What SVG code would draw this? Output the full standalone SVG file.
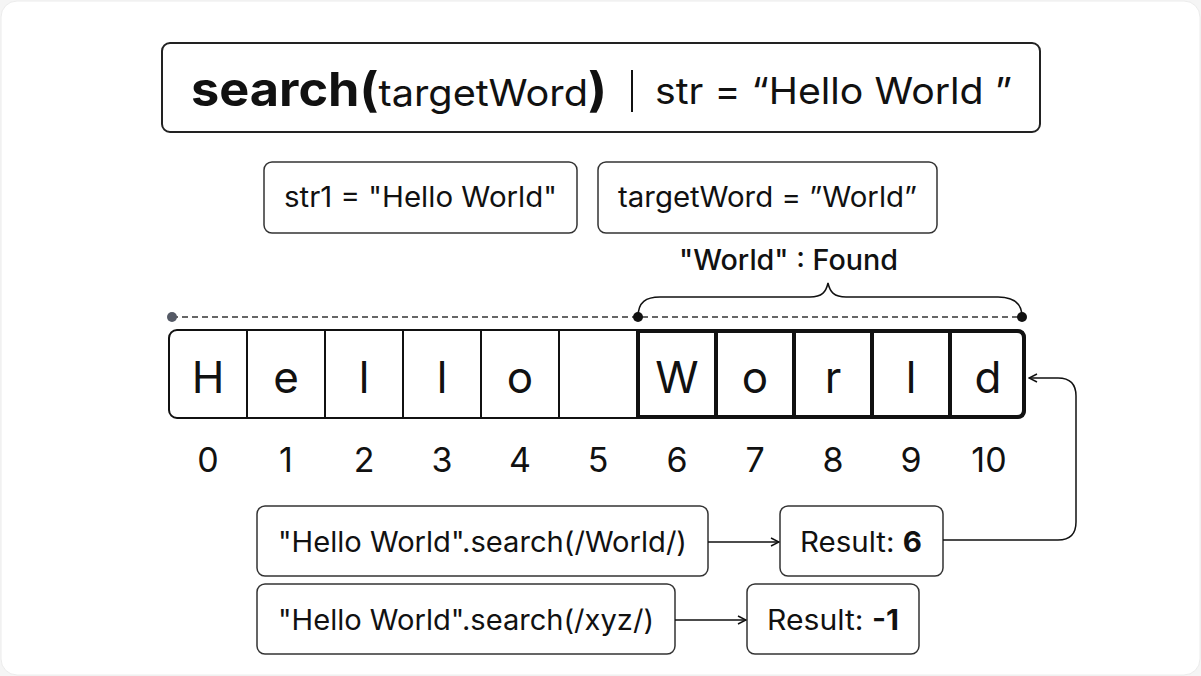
<svg xmlns="http://www.w3.org/2000/svg" width="1201" height="676" viewBox="0 0 1201 676">
<style>
.box{fill:#fff;stroke:#333;stroke-width:1.5}
.t{font-family:Inter,"Liberation Sans",sans-serif;fill:#111}
.cell{fill:none;stroke:#111;stroke-width:2}
.bold{fill:none;stroke:#111;stroke-width:4}
.ch{font-family:Inter,"Liberation Sans",sans-serif;font-size:44px;fill:#111;text-anchor:middle}
.idx{font-family:Inter,"Liberation Sans",sans-serif;font-size:34px;fill:#111;text-anchor:middle}
.conn{fill:none;stroke:#111;stroke-width:1.5}
</style>
<defs>
<marker id="arr" markerWidth="10" markerHeight="10" refX="9" refY="5" orient="auto" markerUnits="userSpaceOnUse">
<path d="M1,1 L9,5 L1,9" fill="none" stroke="#111" stroke-width="1.5"/>
</marker>
</defs>
<rect x="0" y="0" width="1201" height="676" fill="#f5f5f5"/>
<rect x="1" y="1" width="1199" height="674" rx="16" fill="#fff" stroke="#ececec"/>

<g id="title">
<rect x="162" y="43" width="878" height="89" rx="8" fill="#fff" stroke="#222" stroke-width="2"/>
<text class="t" x="191" y="106" font-size="47" font-weight="bold" textLength="416" lengthAdjust="spacingAndGlyphs">search(<tspan font-weight="normal" font-size="37">targetWord</tspan>)</text>
<line x1="632" y1="70" x2="632" y2="112" stroke="#111" stroke-width="2"/>
<text class="t" x="655" y="104" font-size="37" textLength="357" lengthAdjust="spacingAndGlyphs">str = “Hello World ”</text>
</g>

<g id="str1">
<rect class="box" x="264" y="162" width="313" height="71" rx="8"/>
<text class="t" x="284" y="207" font-size="28" textLength="273" lengthAdjust="spacingAndGlyphs">str1 = "Hello World"</text>
</g>
<g id="target">
<rect class="box" x="598" y="162" width="339" height="71" rx="8"/>
<text class="t" x="618" y="207" font-size="28" textLength="299" lengthAdjust="spacingAndGlyphs">targetWord = ”World”</text>
</g>

<g id="found">
<text class="t" x="679" y="270" font-size="28" font-weight="500" textLength="219" lengthAdjust="spacingAndGlyphs">"World" : Found</text>
<path class="conn" d="M638,317 C638,302 646,297 660,297 L810,297 C822,297 826,292 828,283 C830,292 834,297 846,297 L998,297 C1012,297 1022,302 1022,317" stroke-width="2"/>
</g>

<g id="range">
<line x1="172" y1="317" x2="1022" y2="317" stroke="#666" stroke-width="2" stroke-dasharray="6,4"/>
<circle cx="172" cy="317" r="5" fill="#555a66"/>
<circle cx="638" cy="317" r="5" fill="#111"/>
<circle cx="1022" cy="317" r="5" fill="#111"/>
</g>

<g id="array">
<rect x="169" y="330" width="856" height="88" rx="8" fill="#fff" stroke="#111" stroke-width="2"/>
<line class="cell" x1="247" y1="330" x2="247" y2="418"/>
<line class="cell" x1="325" y1="330" x2="325" y2="418"/>
<line class="cell" x1="403" y1="330" x2="403" y2="418"/>
<line class="cell" x1="481" y1="330" x2="481" y2="418"/>
<line class="cell" x1="559" y1="330" x2="559" y2="418"/>
<path class="bold" d="M638,331 L1017,331 Q1024,331 1024,338 L1024,410 Q1024,417 1017,417 L638,417 Z"/>
<line class="bold" x1="716" y1="331" x2="716" y2="417"/>
<line class="bold" x1="794" y1="331" x2="794" y2="417"/>
<line class="bold" x1="872" y1="331" x2="872" y2="417"/>
<line class="bold" x1="950" y1="331" x2="950" y2="417"/>
<text class="ch" x="208" y="393">H</text>
<text class="ch" x="286" y="393">e</text>
<text class="ch" x="364" y="393">l</text>
<text class="ch" x="442" y="393">l</text>
<text class="ch" x="520" y="393">o</text>
<text class="ch" x="677" y="393">W</text>
<text class="ch" x="755" y="393">o</text>
<text class="ch" x="833" y="393">r</text>
<text class="ch" x="911" y="393">l</text>
<text class="ch" x="988" y="393">d</text>
<text class="idx" x="208" y="472">0</text>
<text class="idx" x="286" y="472">1</text>
<text class="idx" x="364" y="472">2</text>
<text class="idx" x="442" y="472">3</text>
<text class="idx" x="520" y="472">4</text>
<text class="idx" x="598" y="472">5</text>
<text class="idx" x="677" y="472">6</text>
<text class="idx" x="755" y="472">7</text>
<text class="idx" x="833" y="472">8</text>
<text class="idx" x="911" y="472">9</text>
<text class="idx" x="989" y="472">10</text>
</g>

<g id="call1">
<rect class="box" x="257" y="506" width="451" height="70" rx="8"/>
<text class="t" x="278" y="552" font-size="28" textLength="409" lengthAdjust="spacingAndGlyphs">"Hello World".search(/World/)</text>
</g>
<g id="res1">
<rect class="box" x="780" y="506" width="163" height="70" rx="8"/>
<text class="t" x="800" y="552" font-size="28" textLength="122" lengthAdjust="spacingAndGlyphs">Result: <tspan font-weight="bold">6</tspan></text>
</g>
<g id="call2">
<rect class="box" x="257" y="584" width="418" height="70" rx="8"/>
<text class="t" x="278" y="630" font-size="28" textLength="376" lengthAdjust="spacingAndGlyphs">"Hello World".search(/xyz/)</text>
</g>
<g id="res2">
<rect class="box" x="747" y="584" width="172" height="70" rx="8"/>
<text class="t" x="767" y="630" font-size="28" textLength="132" lengthAdjust="spacingAndGlyphs">Result: <tspan font-weight="bold">-1</tspan></text>
</g>

<g id="connectors">
<line class="conn" x1="708" y1="542" x2="779" y2="542" marker-end="url(#arr)"/>
<line class="conn" x1="675" y1="620" x2="746" y2="620" marker-end="url(#arr)"/>
<path class="conn" d="M943,540 L1058,540 Q1076,540 1076,522 L1076,396 Q1076,378 1058,378 L1029,378" marker-end="url(#arr)" stroke-width="1.2"/>
</g>
</svg>
